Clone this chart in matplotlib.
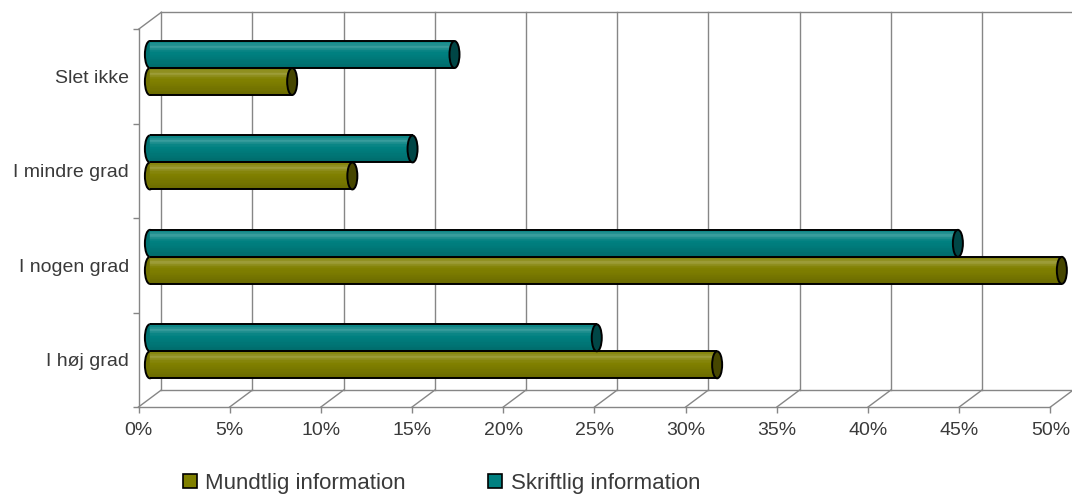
import matplotlib
matplotlib.use("Agg")
import matplotlib.pyplot as plt
import numpy as np
from matplotlib.patches import Ellipse, Patch
from matplotlib.colors import to_rgb

plt.rcParams['font.family'] = ['Liberation Sans', 'DejaVu Sans']

categories = ["I høj grad", "I nogen grad", "I mindre grad", "Slet ikke"]
mundtlig = [31.1, 50.0, 11.1, 7.8]
skriftlig = [24.5, 44.3, 14.4, 16.7]
series_names = ["Mundtlig information", "Skriftlig information"]
xticks = list(range(0, 55, 5))

OLIVE = "#808000"
TEAL = "#008080"
GRID = "#868686"
TEXT = "#3a3a3a"

# depth of the 3D box in data units (x in %, y in category units)
DX, DY = 1.25, 0.18
BAR_H = 0.286
CAP_W = 0.55


def shade(color, f):
    c = np.array(to_rgb(color))
    if f >= 0:
        return tuple(c + (1 - c) * f)
    return tuple(c * (1 + f))


def cylinder(ax, yc, value, color):
    x0 = DX / 2
    # rounded left end
    ax.add_patch(Ellipse((x0, yc), CAP_W, BAR_H, facecolor=shade(color, -0.1),
                         edgecolor="black", lw=1.4, zorder=3, clip_on=False))
    # body with a vertical shading profile
    profile = [0.05, 0.12, 0.22, 0.12, 0.04, 0.0, -0.02, -0.05, -0.08, -0.1, -0.13, -0.16]
    n = len(profile)
    top = yc + BAR_H / 2
    for k, f in enumerate(profile):
        c = shade(color, f)
        ax.barh(top - (k + 0.5) * BAR_H / n, value, left=x0, height=BAR_H / n,
                color=c, edgecolor=c, lw=0.3, zorder=4, clip_on=False)
    ax.hlines([yc - BAR_H / 2, yc + BAR_H / 2], x0, x0 + value, color="black", lw=1.4,
              zorder=5, clip_on=False)
    # right end cap
    ax.add_patch(Ellipse((x0 + value, yc), CAP_W, BAR_H, facecolor=shade(color, -0.45),
                         edgecolor="black", lw=1.4, zorder=6, clip_on=False))


fig = plt.figure(figsize=(10.72, 4.94), dpi=100)
ax = fig.add_axes([0.1292, 0.1761, 0.8507, 0.7646])
ax.set_xlim(0, 50)
ax.set_ylim(-0.5, 3.5)

# back wall, floor and left wall
line_kw = dict(color=GRID, lw=1.0, clip_on=False, zorder=1)
for x in xticks:
    ax.plot([x + DX, x + DX], [-0.5 + DY, 3.5 + DY], **line_kw)
    ax.plot([x, x + DX], [-0.5, -0.5 + DY], **line_kw)
ax.plot([DX, 50 + DX], [3.5 + DY, 3.5 + DY], **line_kw)
ax.plot([DX, 50 + DX], [-0.5 + DY, -0.5 + DY], **line_kw)
ax.plot([0, DX], [3.5, 3.5 + DY], **line_kw)

y = np.arange(len(categories))
for i in range(len(categories)):
    yc = y[i] + DY / 2
    cylinder(ax, yc - BAR_H / 2, mundtlig[i], OLIVE)
    cylinder(ax, yc + BAR_H / 2, skriftlig[i], TEAL)

for side in ["top", "right"]:
    ax.spines[side].set_visible(False)
for side in ["left", "bottom"]:
    ax.spines[side].set_color(GRID)
    ax.spines[side].set_linewidth(1.0)

ax.set_xticks(xticks)
ax.set_xticklabels([f"{t}%" for t in xticks])
ax.set_yticks(y)
ax.set_yticklabels(categories)
ax.set_yticks(np.arange(-0.5, 4.0, 1.0), minor=True)
ax.tick_params(axis="x", length=4, width=1, color=GRID, pad=7, labelsize=14, labelcolor=TEXT)
ax.tick_params(axis="y", which="major", length=0, pad=7, labelsize=14, labelcolor=TEXT)
ax.tick_params(axis="y", which="minor", length=4, width=1, color=GRID)
ax.patch.set_visible(False)

handles = [Patch(facecolor=OLIVE, edgecolor="black", lw=1.2),
           Patch(facecolor=TEAL, edgecolor="black", lw=1.2)]
fig.legend(handles, series_names, loc="center", bbox_to_anchor=(0.412, 0.022), ncol=2,
           frameon=False, fontsize=16, handlelength=0.6, handleheight=0.6,
           handletextpad=0.4, columnspacing=3.7, labelcolor=TEXT)

fig.savefig("out.png", dpi=100)
